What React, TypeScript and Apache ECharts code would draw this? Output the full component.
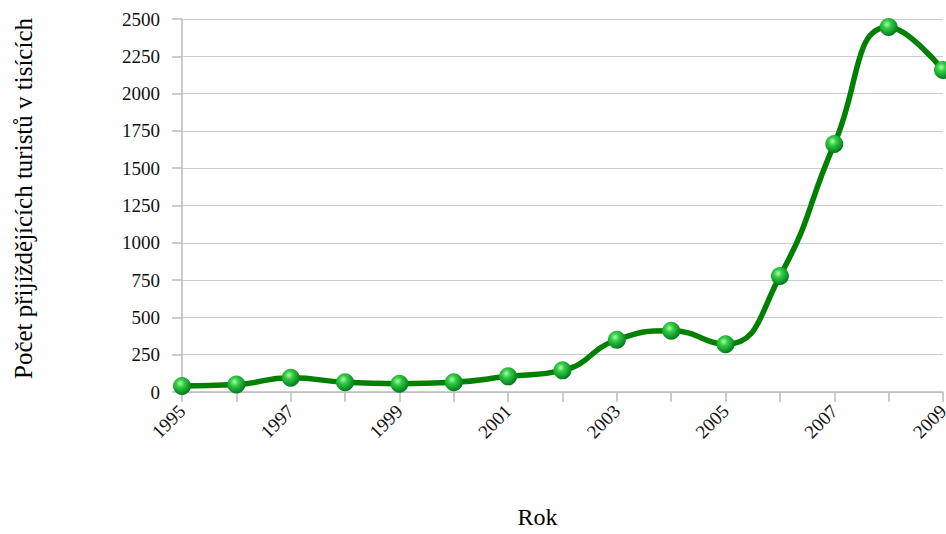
import React, { useEffect, useRef } from "react";
import * as echarts from "echarts";

const years = ["1995","1996","1997","1998","1999","2000","2001","2002","2003","2004","2005","2006","2007","2008","2009"];
const tourists = [40, 50, 95, 65, 55, 65, 105, 145, 350, 410, 320, 777, 1662, 2446, 2158];
const yTicks = { min: 0, max: 2500, interval: 250 };
const yTitle = "Počet přijíždějících turistů v tisících";
const xTitle = "Rok";

export default function App() {
  const ref = useRef<HTMLDivElement>(null);
  useEffect(() => {
    const chart = echarts.init(ref.current!, null, { renderer: "svg" });
    const font = "'Liberation Serif', 'DejaVu Serif', serif";
    chart.setOption({
      animation: false,
      grid: { left: 182, right: 3, top: 19, bottom: 142, containLabel: false, outerBoundsMode: "none" },
      xAxis: {
        type: "category",
        data: years,
        boundaryGap: false,
        name: xTitle,
        nameLocation: "middle",
        nameGap: 113,
        nameTextStyle: { fontFamily: font, fontSize: 24, color: "#000", padding: [0, 50, 0, 0] },
        axisLine: { lineStyle: { color: "#bbb", width: 1.5 } },
        axisTick: { show: true, interval: 0, length: 10, lineStyle: { color: "#bbb", width: 1.5 } },
        axisLabel: {
          interval: 1,
          rotate: 45,
          margin: 16,
          fontFamily: font,
          fontSize: 19,
          color: "#111",
        },
        splitLine: { show: false },
      },
      yAxis: {
        type: "value",
        min: yTicks.min,
        max: yTicks.max,
        interval: yTicks.interval,
        name: yTitle,
        nameLocation: "middle",
        nameGap: 146,
        nameRotate: 90,
        nameTextStyle: { fontFamily: font, fontSize: 25, color: "#000", padding: [0, 0, 0, 14] },
        axisLine: { show: true, lineStyle: { color: "#bbb", width: 1.5 } },
        axisTick: { show: true, length: 10, lineStyle: { color: "#bbb", width: 1.5 } },
        axisLabel: {
          margin: 22,
          fontFamily: font,
          fontSize: 19,
          color: "#111",
          formatter: (v: number) => String(v),
        },
        splitLine: { show: true, lineStyle: { color: "#ccc", width: 1.2 } },
      },
      series: [
        {
          type: "line",
          data: tourists,
          smooth: 0.5,
          symbol: "circle",
          symbolSize: 18,
          lineStyle: { color: "#008000", width: 5.5 },
          itemStyle: {
            color: new echarts.graphic.RadialGradient(0.4, 0.35, 0.65, [
              { offset: 0, color: "#aaffaa" },
              { offset: 0.35, color: "#33cc44" },
              { offset: 1, color: "#007a1e" },
            ]),
            borderWidth: 0,
          },
          clip: false,
        },
      ],
    });
    return () => chart.dispose();
  }, []);
  return <div ref={ref} style={{ width: 946, height: 534, position: "absolute", left: 0, top: 0 }} />;
}
